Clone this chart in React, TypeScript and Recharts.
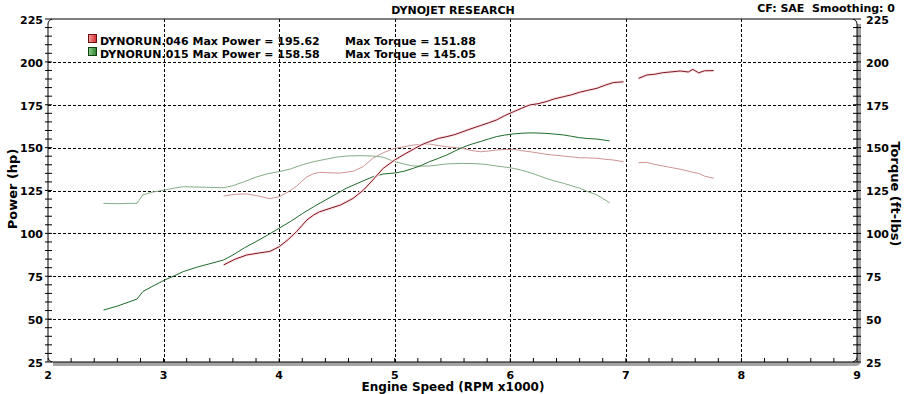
import React from 'react'
import { LineChart, Line, XAxis, YAxis, ReferenceArea } from 'recharts'

// axis labels and grid positions
const rpmLabels = [2, 3, 4, 5, 6, 7, 8, 9]
const scaleLabels = [25, 50, 75, 100, 125, 150, 175, 200, 225]
const gridRpm = [3, 4, 5, 6, 7, 8]
const gridScale = [50, 75, 100, 125, 150, 175, 200]
const rpmDomain = [2, 9]
const scaleDomain = [25, 225]

// legend
const runNames = ['DYNORUN.046', 'DYNORUN.015']
const maxPower = ['195.62', '158.58']
const maxTorque = ['151.88', '145.05']

// run 046 (red) - null marks the break in the trace
const run046Rpm = [
  3.52, 3.62, 3.72, 3.82, 3.92, 4.0, 4.08, 4.15, 4.24, 4.3, 4.35, 4.45, 4.53, 4.64, 4.73, 4.81, 4.9, 5.0,
  5.08, 5.16, 5.23, 5.3, 5.38, 5.45, 5.52, 5.59, 5.66, 5.74, 5.81, 5.88, 5.95, 6.03, 6.1, 6.17, 6.24, 6.31,
  6.38, 6.46, 6.53, 6.6, 6.67, 6.75, 6.82, 6.89, 6.98, 7.04, 7.11, 7.18, 7.25, 7.32, 7.4, 7.47, 7.54, 7.58,
  7.63, 7.68, 7.76,
]
const run046Power = [
  81.6, 85.0, 87.4, 88.5, 89.5, 92.2, 96.5, 101, 107.8, 110.8, 112.6, 114.8, 116.5, 120.4, 125.3, 131.1, 137.9,
  142.8, 146.0, 149.0, 151.6, 153.5, 155.4, 156.4, 157.6, 159.3, 161.0, 162.8, 164.4, 166.1, 168.6, 171.0,
  173.0, 174.9, 175.6, 176.8, 178.4, 179.7, 180.8, 182.3, 183.4, 184.6, 186.4, 187.9, 188.4, null, 190.4,
  192.3, 192.8, 193.7, 194.2, 194.7, 194.1, 195.6, 193.6, 194.8, 194.9,
]
const run046Torque = [
  121.8, 122.8, 123.0, 121.8, 120.2, 121.4, 124.2, 127.5, 133.0, 134.8, 135.6, 135.3, 135.2, 136.2, 139.0,
  143.8, 147.0, 149.6, 150.5, 151.5, 151.9, 152.1, 151.2, 150.5, 150.0, 149.6, 148.4, 147.6, 148.0, 148.6,
  148.9, 149.0, 148.2, 147.6, 146.9, 146.1, 145.6, 145.1, 144.6, 144.1, 144.0, 143.8, 143.2, 142.8, 141.8,
  null, 141.2, 141.4, 140.2, 139.3, 138.3, 137.4, 136.3, 135.6, 135.0, 133.4, 132.1,
]

// run 015 (green)
const run015Rpm = [
  2.48, 2.6, 2.7, 2.77, 2.82, 2.9, 3.01, 3.1, 3.17, 3.3, 3.4, 3.52, 3.6, 3.7, 3.8, 3.9, 4.0, 4.1, 4.2, 4.3,
  4.4, 4.5, 4.58, 4.7, 4.81, 4.9, 5.0, 5.08, 5.16, 5.23, 5.3, 5.38, 5.45, 5.52, 5.59, 5.66, 5.74, 5.81, 5.88,
  5.95, 6.03, 6.1, 6.17, 6.24, 6.31, 6.38, 6.46, 6.53, 6.6, 6.67, 6.75, 6.86,
]
const run015Power = [
  55.3, 57.6, 60.0, 61.7, 66.0, 69.0, 72.8, 75.5, 77.7, 80.5, 82.3, 84.5, 87.4, 91.6, 95.2, 99.0, 103.0,
  107.0, 111.5, 115.6, 119.4, 123.2, 126.3, 129.8, 133.0, 134.6, 135.2, 136.2, 137.9, 139.6, 141.8, 143.8,
  145.7, 148.0, 150.2, 151.9, 153.5, 155.0, 156.4, 157.3, 158.0, 158.4, 158.6, 158.5, 158.3, 157.9, 157.4,
  156.6, 155.8, 155.3, 155.0, 153.9,
]
const run015Torque = [
  117.5, 117.3, 117.5, 117.5, 122.4, 124.0, 125.3, 126.5, 127.2, 127.0, 126.8, 126.6, 127.8, 130.2, 132.8,
  134.8, 136.0, 137.6, 140.0, 141.8, 143.2, 144.5, 145.1, 145.3, 145.1, 144.4, 141.8, 140.5, 139.3, 139.2,
  139.3, 139.9, 140.5, 140.7, 140.8, 140.7, 140.5, 140.0, 139.3, 138.7, 137.9, 136.8, 135.4, 133.8, 132.1,
  130.6, 129.2, 127.8, 126.3, 124.4, 122.4, 117.9,
]

const run046 = run046Rpm.map((rpm, i) => ({ rpm, power: run046Power[i], torque: run046Torque[i] }))
const run015 = run015Rpm.map((rpm, i) => ({ rpm, power: run015Power[i], torque: run015Torque[i] }))

// minor tick marks: every 200 rpm and every 5 units
const rpmTicks = Array.from({ length: 36 }, (_, i) => Math.round((2 + i * 0.2) * 10) / 10)
const scaleTicks = Array.from({ length: 41 }, (_, i) => 25 + i * 5)

const font = { fontFamily: 'DejaVu Sans, Verdana, sans-serif', fontWeight: 700, fontSize: 11, fill: '#000' }

function RpmTick({ x, y, payload }: any) {
  const v = payload.value
  return (
    <g>
      <line x1={x} x2={x} y1={y - 4} y2={y} stroke="#000" />
      {rpmLabels.includes(v) && (
        <text x={x} y={y + 13} dy="0.35em" textAnchor="middle" style={font}>
          {v}
        </text>
      )}
    </g>
  )
}

function LeftTick({ x, y, payload }: any) {
  const v = payload.value
  return (
    <g>
      <line x1={x - 3} x2={x + 4} y1={y} y2={y} stroke="#000" />
      {scaleLabels.includes(v) && (
        <text x={x - 5} y={y + 1} dy="0.35em" textAnchor="end" style={font}>
          {v}
        </text>
      )}
    </g>
  )
}

function RightTick({ x, y, payload }: any) {
  const v = payload.value
  return (
    <g>
      <line x1={x - 4} x2={x + 4} y1={y} y2={y} stroke="#000" />
      {scaleLabels.includes(v) && (
        <text x={x + 9} y={y + 1} dy="0.35em" textAnchor="start" style={font}>
          {v}
        </text>
      )}
    </g>
  )
}

// plot frame with drop shadow and dashed grid, drawn over the full domain rectangle
function Frame({ x, y, width: w, height: h }: any) {
  const shadow = `M ${x + 5} ${y + h + 2} L ${x + w - 2} ${y + h + 2} Q ${x + w + 2} ${y + h + 2} ${x + w + 2} ${y + h - 2} L ${x + w + 2} ${y + 5}`
  const px = (v: number) => x + ((v - rpmDomain[0]) / (rpmDomain[1] - rpmDomain[0])) * w
  const py = (v: number) => y + h - ((v - scaleDomain[0]) / (scaleDomain[1] - scaleDomain[0])) * h
  return (
    <g>
      {gridRpm.map((v) => (
        <line key={`gx${v}`} x1={Math.round(px(v)) + 0.5} x2={Math.round(px(v)) + 0.5} y1={y} y2={y + h} stroke="#000" strokeDasharray="3 2" />
      ))}
      {gridScale.map((v) => (
        <line key={`gy${v}`} x1={x} x2={x + w} y1={Math.round(py(v)) + 0.5} y2={Math.round(py(v)) + 0.5} stroke="#000" strokeDasharray="3 2" />
      ))}
      <path d={shadow} stroke="#a4a4a4" strokeWidth={4} fill="none" />
      <rect x={x} y={y} width={w} height={h} rx={5} ry={5} fill="none" stroke="#000" />
    </g>
  )
}

function Overlay() {
  const colors = [
    ['#f4a0a0', '#d42a2a', '#6a1010'],
    ['#8fd08f', '#2a802a', '#104010'],
  ]
  return (
    <svg width={906} height={394} style={{ position: 'absolute', left: 0, top: 0, pointerEvents: 'none' }}>
      <defs>
        {colors.map((c, i) => (
          <linearGradient key={i} id={`icon${i}`} x1="0" y1="0" x2="1" y2="0">
            <stop offset="0" stopColor={c[0]} />
            <stop offset="1" stopColor={c[1]} />
          </linearGradient>
        ))}
      </defs>
      <text x={453} y={10.5} dy="0.35em" textAnchor="middle" style={font}>
        DYNOJET RESEARCH
      </text>
      <text x={895} y={8} dy="0.35em" textAnchor="end" style={font} xmlSpace="preserve">
        CF: SAE  Smoothing: 0
      </text>
      {runNames.map((name, i) => (
        <g key={name}>
          <rect x={88.5} y={34.5 + i * 13} width={8} height={8} fill={`url(#icon${i})`} stroke={colors[i][2]} />
          <text x={100} y={41 + i * 13} dy="0.35em" style={font}>
            {`${name} Max Power = ${maxPower[i]}`}
          </text>
          <text x={345} y={41 + i * 13} dy="0.35em" style={font}>
            {`Max Torque = ${maxTorque[i]}`}
          </text>
        </g>
      ))}
      <text x={453} y={387} dy="0.35em" textAnchor="middle" style={{ ...font, fontSize: 12 }}>
        Engine Speed (RPM x1000)
      </text>
      <text
        x={12}
        y={189}
        dy="0.35em"
        textAnchor="middle"
        transform="rotate(-90 12 189)"
        style={{ ...font, fontSize: 13 }}
      >
        Power (hp)
      </text>
      <text
        x={896}
        y={194}
        dy="0.35em"
        textAnchor="middle"
        transform="rotate(90 896 194)"
        style={{ ...font, fontSize: 13 }}
      >
        Torque (ft-lbs)
      </text>
    </svg>
  )
}

const lineBase = { dot: false, activeDot: false, isAnimationActive: false, strokeWidth: 1 }

export default function App() {
  return (
    <div style={{ position: 'absolute', left: 0, top: 0, width: 906, height: 394, background: '#fff' }}>
      <LineChart width={906} height={394} margin={{ top: 19, right: 0, bottom: 0, left: 0 }}>
        <XAxis
          dataKey="rpm"
          type="number"
          domain={rpmDomain}
          ticks={rpmTicks}
          interval={0}
          height={32}
          axisLine={false}
          tickLine={false}
          tickSize={0}
          tickMargin={0}
          tick={(p: any) => <RpmTick {...p} />}
        />
        <YAxis
          type="number"
          domain={scaleDomain}
          ticks={scaleTicks}
          interval={0}
          width={48}
          axisLine={false}
          tickLine={false}
          tickSize={0}
          tickMargin={0}
          tick={(p: any) => <LeftTick {...p} />}
        />
        <YAxis
          yAxisId="right"
          orientation="right"
          type="number"
          domain={scaleDomain}
          ticks={scaleTicks}
          interval={0}
          width={49}
          axisLine={false}
          tickLine={false}
          tickSize={0}
          tickMargin={0}
          tick={(p: any) => <RightTick {...p} />}
        />
        <ReferenceArea
          x1={rpmDomain[0]}
          x2={rpmDomain[1]}
          y1={scaleDomain[0]}
          y2={scaleDomain[1]}
          shape={(p: any) => <Frame {...p} />}
        />

        <Line {...lineBase} data={run046} dataKey="torque" yAxisId="right" name="Torque 046" stroke="#d09393" />
        <Line {...lineBase} data={run015} dataKey="torque" yAxisId="right" name="Torque 015" stroke="#86ab86" />
        <Line {...lineBase} data={run015} dataKey="power" name="Power 015" stroke="#1f6a2a" />
        <Line {...lineBase} data={run046} dataKey="power" stroke="#fde4e4" strokeWidth={3} />
        <Line {...lineBase} data={run046} dataKey="power" name="Power 046" stroke="#7e1422" />
      </LineChart>
      <Overlay />
    </div>
  )
}
